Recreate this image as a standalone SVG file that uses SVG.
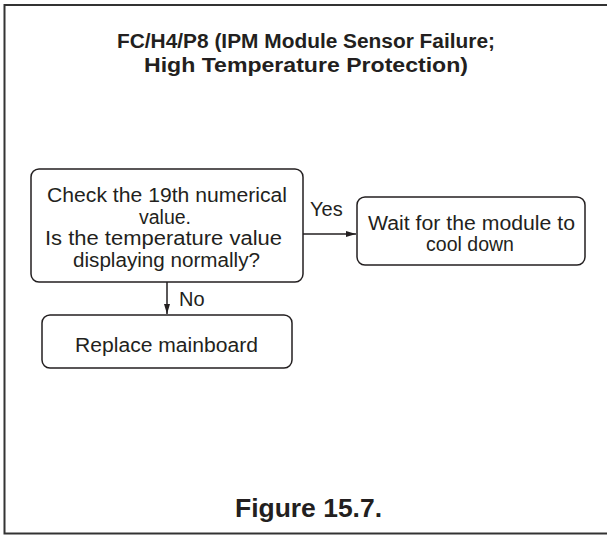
<svg xmlns="http://www.w3.org/2000/svg" width="607" height="535" viewBox="0 0 607 535">
<style>
.box{fill:#fff;stroke:#231f20;stroke-width:1.5}
.t{font-family:"Liberation Sans",Arial,sans-serif;font-size:19.5px;fill:#231f20;text-anchor:middle}
.l{font-family:"Liberation Sans",Arial,sans-serif;font-size:20px;fill:#231f20}
.b{font-family:"Liberation Sans",Arial,sans-serif;font-weight:bold;fill:#231f20;text-anchor:middle}
.c{stroke:#231f20;stroke-width:1.5;fill:none}
</style>
<defs>
<marker id="ah" markerWidth="10" markerHeight="6" refX="10" refY="3" orient="auto" markerUnits="userSpaceOnUse">
<path d="M0,0 L10,3 L0,6 Z" fill="#231f20"/>
</marker>
</defs>
<rect x="0" y="0" width="607" height="535" fill="#fff"/>
<rect x="4.5" y="5" width="605" height="528.5" fill="none" stroke="#333" stroke-width="2"/>
<g id="title">
<text class="b" x="306" y="48" font-size="20" textLength="378" lengthAdjust="spacingAndGlyphs">FC/H4/P8 (IPM Module Sensor Failure;</text>
<text class="b" x="306" y="72" font-size="20" textLength="324" lengthAdjust="spacingAndGlyphs">High Temperature Protection)</text>
</g>
<g id="connectors">
<path class="c" d="M303,234 H356" marker-end="url(#ah)"/>
<path class="c" d="M167,282 V314" marker-end="url(#ah)"/>
<text class="l" x="310" y="216">Yes</text>
<text class="l" x="179" y="306">No</text>
</g>
<g id="check">
<rect class="box" x="31" y="169" width="272" height="113" rx="8"/>
<text class="t" x="167" y="202" textLength="240" lengthAdjust="spacingAndGlyphs">Check the 19th numerical</text>
<text class="t" x="165" y="223.5">value.</text>
<text class="t" x="163.5" y="245" textLength="237" lengthAdjust="spacingAndGlyphs">Is the temperature value</text>
<text class="t" x="166.5" y="266.5" textLength="187" lengthAdjust="spacingAndGlyphs">displaying normally?</text>
</g>
<g id="wait">
<rect class="box" x="357" y="197" width="228" height="68" rx="8"/>
<text class="t" x="471.5" y="230" textLength="207" lengthAdjust="spacingAndGlyphs">Wait for the module to</text>
<text class="t" x="470" y="251">cool down</text>
</g>
<g id="replace">
<rect class="box" x="42" y="315" width="250" height="53" rx="8"/>
<text class="t" x="166.5" y="352" textLength="183" lengthAdjust="spacingAndGlyphs">Replace mainboard</text>
</g>
<g id="caption">
<text class="b" x="308.5" y="517" font-size="26" textLength="147" lengthAdjust="spacingAndGlyphs">Figure 15.7.</text>
</g>
</svg>
